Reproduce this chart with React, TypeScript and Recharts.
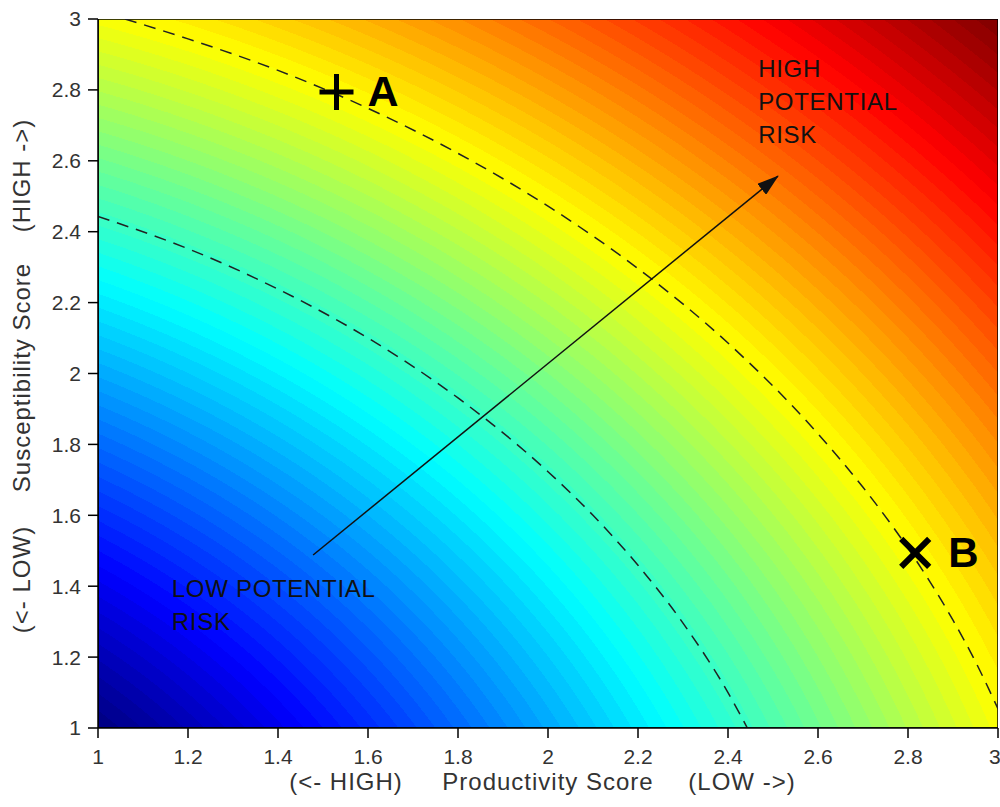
import React from "react";
import {
  ComposedChart,
  Line,
  Scatter,
  XAxis,
  YAxis,
  ReferenceArea,
} from "recharts";

// axis ticks (both axes run 1..3)
const ticks = [1, 1.2, 1.4, 1.6, 1.8, 2, 2.2, 2.4, 2.6, 2.8, 3];

// dashed threshold curves
const outerCurve = [
  { x: 1.06, y: 3.0 },
  { x: 1.2, y: 2.944 },
  { x: 1.4, y: 2.855 },
  { x: 1.6, y: 2.748 },
  { x: 1.8, y: 2.621 },
  { x: 2.0, y: 2.472 },
  { x: 2.2, y: 2.296 },
  { x: 2.4, y: 2.086 },
  { x: 2.6, y: 1.83 },
  { x: 2.7, y: 1.679 },
  { x: 2.8, y: 1.507 },
  { x: 2.9, y: 1.304 },
  { x: 2.95, y: 1.187 },
  { x: 3.0, y: 1.054 },
];

const innerCurve = [
  { x: 1.0, y: 2.443 },
  { x: 1.2, y: 2.352 },
  { x: 1.4, y: 2.238 },
  { x: 1.6, y: 2.1 },
  { x: 1.8, y: 1.931 },
  { x: 2.0, y: 1.723 },
  { x: 2.1, y: 1.6 },
  { x: 2.2, y: 1.459 },
  { x: 2.3, y: 1.296 },
  { x: 2.4, y: 1.1 },
  { x: 2.443, y: 1.0 },
];

// arrow from low to high risk
const arrow = [
  { x: 1.478, y: 1.488 },
  { x: 2.511, y: 2.557 },
];

// species markers
const pointA = [{ x: 1.53, y: 2.794, name: "A" }];
const pointB = [{ x: 2.816, y: 1.494, name: "B" }];

// region notes
const highNote = [{ x: 2.467, y: 2.836, lines: ["HIGH", "POTENTIAL", "RISK"] }];
const lowNote = [{ x: 1.164, y: 1.37, lines: ["LOW POTENTIAL", "RISK"] }];

const FONT = '"Liberation Sans", Arial, sans-serif';

// matlab style jet colormap
function jet(t: number) {
  const c = (v: number) => Math.round(255 * Math.max(0, Math.min(1, v)));
  return `rgb(${c(1.5 - Math.abs(4 * t - 3))},${c(1.5 - Math.abs(4 * t - 2))},${c(
    1.5 - Math.abs(4 * t - 1)
  )})`;
}

// banded stops: distance from origin, from sqrt(2) at (1,1) to sqrt(18) at (3,3)
const BANDS = 80;
const bandStops: { offset: number; color: string }[] = [];
for (let i = 0; i < BANDS; i++) {
  const col = jet((i + 0.5) / BANDS);
  bandStops.push({ offset: 1 / 3 + (2 / 3) * (i / BANDS), color: col });
  bandStops.push({ offset: 1 / 3 + (2 / 3) * ((i + 1) / BANDS), color: col });
}

const fmt = (v: number) => String(Number(v.toFixed(1)));

function Plus(props: any) {
  const { cx, cy, payload } = props;
  return (
    <g>
      <path
        d={`M${cx - 17},${cy} L${cx + 17},${cy} M${cx},${cy - 18} L${cx},${cy + 18}`}
        stroke="#000"
        strokeWidth={5}
      />
      <text x={cx + 31} y={cy + 14} fontFamily={FONT} fontWeight="bold" fontSize={43} fill="#000">
        {payload.name}
      </text>
    </g>
  );
}

function Cross(props: any) {
  const { cx, cy, payload } = props;
  return (
    <g>
      <path
        d={`M${cx - 14},${cy - 14} L${cx + 14},${cy + 14} M${cx + 14},${cy - 14} L${cx - 14},${cy + 14}`}
        stroke="#000"
        strokeWidth={6}
      />
      <text x={cx + 33} y={cy + 14} fontFamily={FONT} fontWeight="bold" fontSize={42} fill="#000">
        {payload.name}
      </text>
    </g>
  );
}

function Note(props: any) {
  const { cx, cy, payload } = props;
  return (
    <text fontFamily={FONT} fontSize={24} letterSpacing={0.7} fill="#111">
      {payload.lines.map((l: string, i: number) => (
        <tspan key={i} x={cx} y={cy + i * 33}>
          {l}
        </tspan>
      ))}
    </text>
  );
}

function XTitle(props: any) {
  const { x, y, width } = props.viewBox;
  const cx = x + width / 2;
  const by = y + 62;
  const common = { fontFamily: FONT, fontSize: 24, letterSpacing: 1, fill: "#333", textAnchor: "middle" as const };
  return (
    <g>
      <text x={cx - 202} y={by} {...common}>(&lt;- HIGH)</text>
      <text x={cx} y={by} {...common}>Productivity Score</text>
      <text x={cx + 194} y={by} {...common}>(LOW -&gt;)</text>
    </g>
  );
}

function YTitle(props: any) {
  const { y, height } = props.viewBox;
  const cy = y + height / 2;
  const bx = 30;
  const common = { fontFamily: FONT, fontSize: 24, letterSpacing: 1, fill: "#333", textAnchor: "middle" as const };
  const piece = (dy: number, s: string) => (
    <text x={bx} y={cy + dy} transform={`rotate(-90, ${bx}, ${cy + dy})`} {...common}>
      {s}
    </text>
  );
  return (
    <g>
      {piece(206, "(<- LOW)")}
      {piece(4, "Susceptibility Score")}
      {piece(-198, "(HIGH ->)")}
    </g>
  );
}

const tickStyle = { fontSize: 21, fill: "#333", fontFamily: FONT };

export default function App() {
  return (
    <div style={{ width: 1000, height: 807, background: "#fff" }}>
      <style>{"body{margin:0}"}</style>
      <svg width={0} height={0} style={{ position: "absolute" }}>
        <defs>
          <radialGradient id="riskField" gradientUnits="objectBoundingBox" cx={-0.5} cy={1.5} r={2.1213} fx={-0.5} fy={1.5}>
            {bandStops.map((s, i) => (
              <stop key={i} offset={s.offset} stopColor={s.color} />
            ))}
          </radialGradient>
          <marker
            id="arrowHead"
            markerUnits="userSpaceOnUse"
            viewBox="0 0 22 14"
            refX={21}
            refY={7}
            markerWidth={22}
            markerHeight={14}
            orient="auto"
          >
            <path d="M0,0 L22,7 L0,14 z" fill="#111" />
          </marker>
        </defs>
      </svg>
      <ComposedChart width={1000} height={807} margin={{ top: 19, right: 2, bottom: 0, left: 0 }}>
        <XAxis
          dataKey="x"
          type="number"
          domain={[1, 3]}
          ticks={ticks}
          allowDataOverflow
          height={79}
          tickSize={10}
          tickMargin={11}
          tickFormatter={fmt}
          tick={tickStyle}
          axisLine={{ stroke: "#000", strokeWidth: 1.5 }}
          tickLine={{ stroke: "#000", strokeWidth: 1.5 }}
          label={{ content: (p: any) => <XTitle viewBox={p.viewBox} /> }}
        />
        <XAxis
          xAxisId="top"
          orientation="top"
          dataKey="x"
          type="number"
          domain={[1, 3]}
          ticks={ticks}
          allowDataOverflow
          height={0}
          tickSize={10}
          tickFormatter={() => ""}
          axisLine={{ stroke: "#000", strokeWidth: 1.5 }}
          tickLine={{ stroke: "#000", strokeWidth: 1.5 }}
        />
        <YAxis
          type="number"
          domain={[1, 3]}
          ticks={ticks}
          allowDataOverflow
          width={98}
          tickSize={10}
          tickMargin={7}
          tickFormatter={fmt}
          tick={tickStyle}
          axisLine={{ stroke: "#000", strokeWidth: 1.5 }}
          tickLine={{ stroke: "#000", strokeWidth: 1.5 }}
          label={{ content: (p: any) => <YTitle viewBox={p.viewBox} /> }}
        />
        <YAxis
          yAxisId="right"
          orientation="right"
          type="number"
          domain={[1, 3]}
          ticks={ticks}
          allowDataOverflow
          width={0}
          tickSize={10}
          tickFormatter={() => ""}
          axisLine={{ stroke: "#000", strokeWidth: 1.5 }}
          tickLine={{ stroke: "#000", strokeWidth: 1.5 }}
        />
        <ReferenceArea
          x1={1}
          x2={3}
          y1={1}
          y2={3}
          fill="url(#riskField)"
          fillOpacity={1}
          stroke="#000"
          strokeWidth={1.5}
          ifOverflow="hidden"
        />
        <Line
          data={outerCurve}
          dataKey="y"
          type="monotone"
          stroke="#222"
          strokeWidth={1.5}
          strokeDasharray="12 8"
          dot={false}
          activeDot={false}
          isAnimationActive={false}
        />
        <Line
          data={innerCurve}
          dataKey="y"
          type="monotone"
          stroke="#222"
          strokeWidth={1.5}
          strokeDasharray="12 8"
          dot={false}
          activeDot={false}
          isAnimationActive={false}
        />
        <Line
          data={arrow}
          dataKey="y"
          type="linear"
          stroke="#111"
          strokeWidth={1.5}
          markerEnd="url(#arrowHead)"
          dot={false}
          activeDot={false}
          isAnimationActive={false}
        />
        <Scatter data={pointA} dataKey="y" shape={Plus} isAnimationActive={false} />
        <Scatter data={pointB} dataKey="y" shape={Cross} isAnimationActive={false} />
        <Scatter data={highNote} dataKey="y" shape={Note} isAnimationActive={false} />
        <Scatter data={lowNote} dataKey="y" shape={Note} isAnimationActive={false} />
      </ComposedChart>
    </div>
  );
}
